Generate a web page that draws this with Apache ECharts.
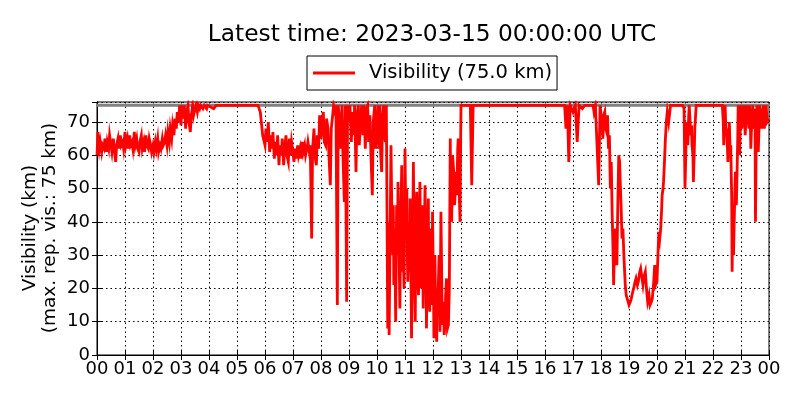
<!DOCTYPE html>
<html><head><meta charset="utf-8">
<script src="https://cdn.jsdelivr.net/npm/echarts@6/dist/echarts.min.js"></script>
<style>html,body{margin:0;padding:0;background:#fff}#c{width:800px;height:400px}</style>
</head><body><div id="c"></div>
<script>
const titleText = 'Latest time: 2023-03-15 00:00:00 UTC';
const seriesName = 'Visibility (75.0 km)';
const yAxisName = 'Visibility (km)\n(max. rep. vis.: 75 km)';
const hourLabels = ['00','01','02','03','04','05','06','07','08','09','10','11','12','13','14','15','16','17','18','19','20','21','22','23','00'];
const maxReportedVisibility = 75;

const times = [
 '00:00','00:02','00:05','00:07','00:10','00:12','00:15','00:17','00:20','00:22','00:25','00:27','00:30','00:32','00:35','00:37','00:40','00:42','00:45','00:47','00:50','00:52','00:55','00:57',
 '01:00','01:02','01:05','01:07','01:10','01:12','01:15','01:17','01:20','01:22','01:25','01:27','01:30','01:32','01:35','01:37','01:40','01:42','01:45','01:47','01:50','01:52','01:55','01:57',
 '02:00','02:02','02:05','02:07','02:10','02:12','02:15','02:17','02:20','02:22','02:25','02:27','02:30','02:32','02:35','02:37','02:40','02:42','02:45','02:47','02:50','02:52','02:55','02:57',
 '03:00','03:02','03:05','03:07','03:10','03:12','03:15','03:17','03:20','03:22','03:25','03:27','03:30','03:32','03:35','03:37','03:40','03:42','03:45','03:47','03:50','03:52','03:55','03:57',
 '04:00','04:10','04:15','05:45','05:50','05:55',
 '06:00','06:02','06:05','06:07','06:10','06:12','06:15','06:17','06:20','06:22','06:25','06:27','06:30','06:32','06:35','06:37','06:40','06:42','06:45','06:47','06:50','06:52','06:55','06:57',
 '07:00','07:02','07:05','07:07','07:10','07:12','07:15','07:17','07:20','07:22','07:25','07:27','07:30','07:32','07:35','07:37','07:40','07:42','07:45','07:47','07:50','07:52','07:55','07:57',
 '08:00','08:02','08:05','08:07','08:10','08:12','08:15','08:17','08:20','08:22','08:25','08:27','08:30','08:32','08:35','08:37','08:40','08:42','08:45','08:47','08:50','08:52','08:55','08:57',
 '09:00','09:02','09:05','09:07','09:10','09:12','09:15','09:17','09:20','09:22','09:25','09:27','09:30','09:32','09:35','09:37','09:40','09:42','09:45','09:47','09:50','09:52','09:55','09:57',
 '10:00','10:02','10:04','10:06','10:08','10:10','10:12','10:14','10:16','10:18','10:20','10:21','10:23','10:24','10:26','10:28','10:30','10:32','10:34','10:35','10:36','10:38','10:40','10:41','10:42','10:44','10:45','10:47','10:49','10:51','10:53','10:54','10:56','10:58',
 '11:00','11:02','11:04','11:05','11:06','11:08','11:10','11:11','11:13','11:14','11:16','11:18','11:20','11:22','11:23','11:25','11:27','11:29','11:30','11:32','11:34','11:36','11:37','11:39','11:41','11:43','11:45','11:46','11:48','11:50','11:51','11:53','11:55','11:57','11:58','11:59',
 '12:01','12:02','12:03','12:04','12:06','12:08','12:09','12:11','12:13','12:15','12:16','12:17','12:19','12:20','12:22','12:24','12:26','12:27','12:29','12:31','12:33','12:35','12:37','12:38','12:40','12:42','12:44','12:46','12:47','12:49','12:51','12:53','12:54','12:56','12:58','12:59',
 '13:00','13:20','13:23','13:26','16:42','16:45','16:48','16:51','16:54',
 '17:00','17:05','17:09','17:13','17:20','17:25','17:43','17:45','17:48','17:55','17:58',
 '18:00','18:02','18:04','18:06','18:08','18:10','18:12','18:14','18:16','18:18','18:20','18:22','18:24','18:26','18:27','18:29','18:31','18:33','18:34','18:36','18:38','18:40','18:41','18:43','18:45','18:47','18:49','18:51','18:52','18:54','18:56','18:58',
 '19:00','19:03','19:05','19:08','19:10','19:13','19:15','19:18','19:20','19:23','19:25','19:28','19:30','19:33','19:35','19:38','19:40','19:43','19:45','19:48','19:50','19:53','19:55','19:57',
 '20:00','20:02','20:04','20:06','20:08','20:10','20:11','20:13','20:14','20:16','20:18','20:20','20:22','20:25','20:29','20:55','20:58',
 '21:00','21:02','21:03','21:05','21:06','21:08','21:09','21:11','21:12','21:14','21:15','21:17','21:18','21:20','21:21','21:24',
 '22:20','22:22','22:23','22:25','22:26','22:28','22:29','22:31','22:32','22:34','22:35','22:37','22:38','22:40','22:41','22:42','22:43','22:44','22:45','22:47','22:48','22:50','22:51','22:53','22:54','22:56','22:57','22:59',
 '23:00','23:02','23:03','23:05','23:06','23:08','23:09','23:11','23:12','23:14','23:15','23:17','23:18','23:20','23:21','23:23','23:25','23:27','23:28','23:30','23:31','23:33','23:34','23:36','23:37','23:39','23:40','23:42','23:44','23:46','23:48','23:50','23:51','23:53','23:54','23:56','23:57','24:00'
];
const visibility = [
 60,67,62,64,61,63,62,65,61,64,62,66,63,61,65,62,58,63,65,62,66,63,64,62,
 67,63,65,62,66,63,64,62,67,63,65,62,61,64,66,62,64,61,66,63,62,65,63,61,
 63,61,64,62,65,61,63,62,65,63,64,66,63,67,64,68,65,69,66,71,68,73,70,75,
 69,75,71,75,68,73,75,70,67,72,75,72,74,75,73,75,74,75,75,74,75,75,74,75,
 75,74,75,75,73,66,
 63,68,64,70,61,66,62,67,59,64,60,66,57,63,60,65,57,62,66,60,58,65,60,64,
 61,58,62,59,63,60,62,59,64,61,63,60,62,64,61,63,35,62,68,60,57,66,62,72,
 65,70,73,64,63,71,68,60,51,68,72,75,73,75,15,75,70,62,75,60,46,75,16,75,
 70,75,64,73,66,75,55,72,75,63,70,75,66,75,62,74,75,64,72,60,48,70,75,62,
 70,75,62,75,60,55,72,75,66,64,75,75,8,40,6,35,63,40,30,45,21,38,10,25,45,30,52,35,14,40,57,25,33,20,
 62,35,50,30,22,40,25,47,20,5,30,58,28,10,35,49,25,18,40,52,20,30,45,14,33,51,28,8,30,47,22,13,38,31,15,43,
 20,5,22,30,12,4,20,18,30,7,25,43,20,9,16,6,10,18,23,8,9,20,65,45,40,60,56,45,47,55,48,62,65,50,40,60,
 75,75,51,75,75,68,75,58,75,
 73,75,64,75,74,75,75,73,75,51,75,
 75,70,65,72,73,68,67,72,62,66,50,58,42,30,21,33,38,30,27,45,60,58,53,45,35,38,30,24,21,18,17,16,
 15,16,17,19,20,22,23,21,22,25,26,23,21,24,25,19,16,18,15,16,17,22,27,21,
 22,30,37,35,38,44,48,50,52,58,65,70,73,70,75,75,74,
 50,62,70,66,63,72,75,70,66,69,63,60,52,62,68,75,
 75,70,63,72,75,66,68,62,58,66,70,60,63,48,25,38,45,30,37,50,55,45,51,65,75,68,60,72,
 75,68,70,73,75,71,66,72,75,70,72,68,75,70,62,70,75,72,68,74,40,70,75,68,61,70,75,72,68,73,75,68,70,74,75,70,70,71
];

function toHours(t) { const p = t.split(':'); return Number(p[0]) + Number(p[1]) / 60; }
const seriesData = times.map((t, i) => [toHours(t), visibility[i]]);

const FONT = 'DejaVu Sans';
const dotted = { show: true, lineStyle: { color: '#000', width: 1, type: [1.5, 3] } };
const chart = echarts.init(document.getElementById('c'), null, { renderer: 'canvas' });
chart.setOption({
  animation: false,
  backgroundColor: '#fff',
  textStyle: { fontFamily: FONT, color: '#000' },
  title: {
    text: titleText, left: 432, top: 23, textAlign: 'center', padding: 0,
    textStyle: { fontFamily: FONT, fontSize: 23.3, fontWeight: 'normal', color: '#000' }
  },
  legend: {
    data: [{ name: seriesName, icon: 'rect' }],
    left: 307, top: 56, padding: [7, 5, 7, 6],
    itemWidth: 42, itemHeight: 3,
    borderColor: '#000', borderWidth: 1, borderRadius: 0,
    textStyle: { fontFamily: FONT, fontSize: 19.5, color: '#000', padding: [0, 0, 0, 9] }
  },
  graphic: [{
    type: 'text', x: 40, y: 228, rotation: Math.PI / 2, silent: true,
    style: { text: yAxisName, fontFamily: FONT, fontSize: 18.5, lineHeight: 20, fill: '#000',
      textAlign: 'center', textVerticalAlign: 'middle' }
  }],
  grid: { left: 97, right: 31, top: 102, bottom: 45, show: true, borderColor: '#000', borderWidth: 1, backgroundColor: 'transparent' },
  xAxis: [{
    type: 'value', position: 'bottom', min: 0, max: 24, interval: 1,
    axisLine: { show: true, lineStyle: { color: '#000', width: 1 } },
    axisTick: { show: true, inside: true, length: 5, lineStyle: { color: '#000' } },
    axisLabel: { margin: 5, fontFamily: FONT, fontSize: 18, color: '#000', formatter: v => hourLabels[Math.round(v)] },
    splitLine: dotted
  }, {
    type: 'value', position: 'top', min: 0, max: 24, interval: 1,
    axisLine: { show: true, lineStyle: { color: '#000', width: 1 } },
    axisTick: { show: true, inside: true, length: 5, lineStyle: { color: '#000' } },
    axisLabel: { show: false }, splitLine: { show: false }
  }],
  yAxis: [{
    type: 'value', position: 'left', min: 0, max: 76, interval: 10,
    axisLine: { show: true, lineStyle: { color: '#000', width: 1 } },
    axisTick: { show: true, inside: true, length: 5, lineStyle: { color: '#000' } },
    axisLabel: { margin: 7, fontFamily: FONT, fontSize: 18, color: '#000', showMaxLabel: false,
      formatter: v => (v % 10 === 0 ? String(v) : '') },
    splitLine: dotted
  }, {
    type: 'value', position: 'right', min: 0, max: 76, interval: 10,
    axisLine: { show: true, lineStyle: { color: '#000', width: 1 } },
    axisTick: { show: true, inside: true, length: 5, lineStyle: { color: '#000' } },
    axisLabel: { show: false }, splitLine: { show: false }
  }],
  series: [{
    name: 'max', type: 'line', silent: true, z: 1, showSymbol: false, symbol: 'none',
    data: [[0, maxReportedVisibility], [24, maxReportedVisibility]],
    lineStyle: { color: '#808080', width: 3 }
  }, {
    name: seriesName, type: 'line', z: 2, showSymbol: false, symbol: 'none',
    data: seriesData,
    itemStyle: { color: '#ff0000' },
    lineStyle: { color: '#ff0000', width: 2.8, join: 'miter' }
  }]
});
</script></body></html>
